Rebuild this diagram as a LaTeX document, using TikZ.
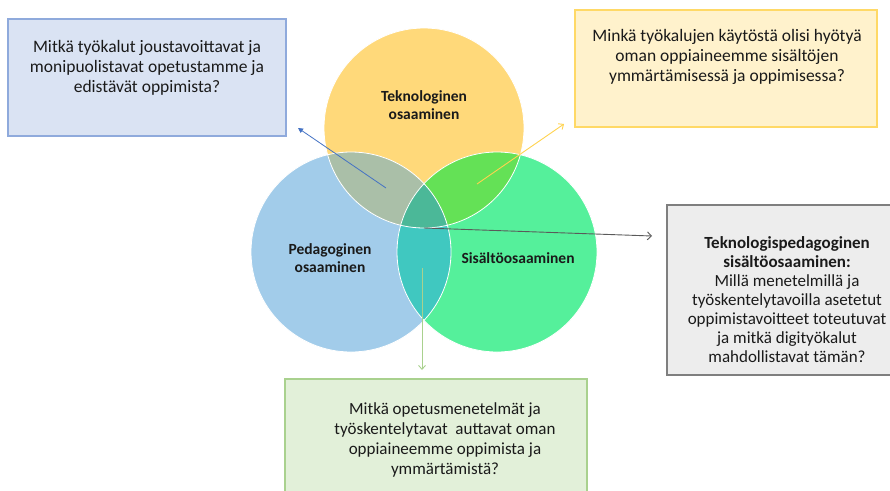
\documentclass[tikz,border=0pt]{standalone}
\usepackage{fontspec}
\setmainfont{Carlito}
\usetikzlibrary{arrows.meta}

% circle fills and their overlaps
\definecolor{cYel}{HTML}{FFD97A}
\definecolor{cBlu}{HTML}{A2CCEA}
\definecolor{cGrn}{HTML}{55F09B}
\definecolor{cYB}{HTML}{AABFA8}
\definecolor{cYG}{HTML}{64E156}
\definecolor{cBG}{HTML}{40C8C0}
\definecolor{cAll}{HTML}{4BB898}
% question boxes
\definecolor{boxBlueFill}{HTML}{DAE3F3}
\definecolor{boxBlueLine}{HTML}{8FAADC}
\definecolor{boxYelFill}{HTML}{FFF2CC}
\definecolor{boxYelLine}{HTML}{FFD966}
\definecolor{boxGrayFill}{HTML}{EDEDED}
\definecolor{boxGrayLine}{HTML}{7F7F7F}
\definecolor{boxGrnFill}{HTML}{E2F0D9}
\definecolor{boxGrnLine}{HTML}{A9D18E}
\definecolor{ink}{HTML}{1A1A1A}
% connectors
\definecolor{arBlue}{HTML}{4472C4}
\definecolor{arYel}{HTML}{FFD34F}
\definecolor{arGray}{HTML}{5A5A5A}
\definecolor{arGrn}{HTML}{A9D18E}

\begin{document}
\begin{tikzpicture}[x=1pt,y=-1pt,
  qbox/.style={draw, line width=1.4pt, minimum width=#1, inner sep=0pt},
  qtext/.style={align=center, inner sep=0pt, text=ink, font=\fontsize{17.5}{20}\selectfont},
  clabel/.style={align=center, inner sep=0pt, text=ink, font=\fontsize{15.5}{17.5}\selectfont\bfseries},
  link/.style={line width=0.9pt}
]
\useasboundingbox (0,0) rectangle (890,490);
\fill[white] (0,0) rectangle (890,490);

% circle centres
\coordinate (Y) at (424,128);
\coordinate (B) at (351,252);
\coordinate (G) at (497,252);

% three circles and their overlaps
\fill[cYel] (Y) circle[radius=100pt];
\fill[cBlu] (B) circle[radius=100pt];
\fill[cGrn] (G) circle[radius=100pt];
\begin{scope}
  \clip (Y) circle[radius=100pt];
  \fill[cYB] (B) circle[radius=100pt];
  \fill[cYG] (G) circle[radius=100pt];
\end{scope}
\begin{scope}
  \clip (B) circle[radius=100pt];
  \fill[cBG] (G) circle[radius=100pt];
\end{scope}
\begin{scope}
  \clip (Y) circle[radius=100pt];
  \clip (B) circle[radius=100pt];
  \fill[cAll] (G) circle[radius=100pt];
\end{scope}
\foreach \c in {Y,B,G} \draw[white, line width=0.8pt] (\c) circle[radius=100pt];

% circle labels
\node[clabel] (tek) at (424,105) {Teknologinen\\osaaminen};
\node[clabel] (ped) at (330,258) {Pedagoginen\\osaaminen};
\node[clabel] (sis) at (518,258) {Sisältöosaaminen};

% question boxes
\node[qbox=278pt, minimum height=117pt, fill=boxBlueFill, draw=boxBlueLine] (qB) at (147,77.5) {};
\node[qtext] (tB) at (147,68) {Mitkä työkalut joustavoittavat ja\\monipuolistavat opetustamme ja\\edistävät oppimista?};

\node[qbox=302pt, minimum height=117pt, fill=boxYelFill, draw=boxYelLine] (qY) at (726,68.5) {};
\node[qtext] (tY) at (727,57) {Minkä työkalujen käytöstä olisi hyötyä\\oman oppiaineemme sisältöjen\\ymmärtämisessä ja oppimisessa?};

\node[qbox=240pt, minimum height=170pt, fill=boxGrayFill, draw=boxGrayLine] (qT) at (787,290) {};
\node[qtext, font=\fontsize{17}{19}\selectfont] (tT) at (787,300) {\textbf{Teknologispedagoginen}\\\textbf{sisältöosaaminen:}\\Millä menetelmillä ja\\työskentelytavoilla asetetut\\oppimistavoitteet toteutuvat\\ja mitkä digityökalut\\mahdollistavat tämän?};

\node[qbox=302pt, minimum height=116pt, fill=boxGrnFill, draw=boxGrnLine] (qG) at (436,437) {};
\node[qtext, font=\fontsize{17}{19.7}\selectfont] (tG) at (445,440) {Mitkä opetusmenetelmät ja\\työskentelytavat\ \ auttavat oman\\oppiaineemme oppimista ja\\ymmärtämistä?};

% connector ends
\coordinate (sYB) at (386,188);
\coordinate (eYB) at (298,128);
\coordinate (sYG) at (477,184);
\coordinate (eYG) at (564,124);
\coordinate (sAll) at (424,228);
\coordinate (eAll) at (652,236);
\coordinate (sBG) at (422,268);
\coordinate (eBG) at (422,370);

% connectors
\draw[link, arBlue, line width=0.8pt, -{Triangle[length=5pt,width=5pt]}] (sYB) -- (eYB);
\draw[link, arYel, -{Straight Barb[length=4pt,width=7pt]}] (sYG) -- (eYG);
\draw[link, arGray, -{Straight Barb[length=4pt,width=8pt]}] (sAll) -- (eAll);
\draw[link, arGrn, -{Straight Barb[length=4pt,width=7pt]}] (sBG) -- (eBG);
\end{tikzpicture}
\end{document}
